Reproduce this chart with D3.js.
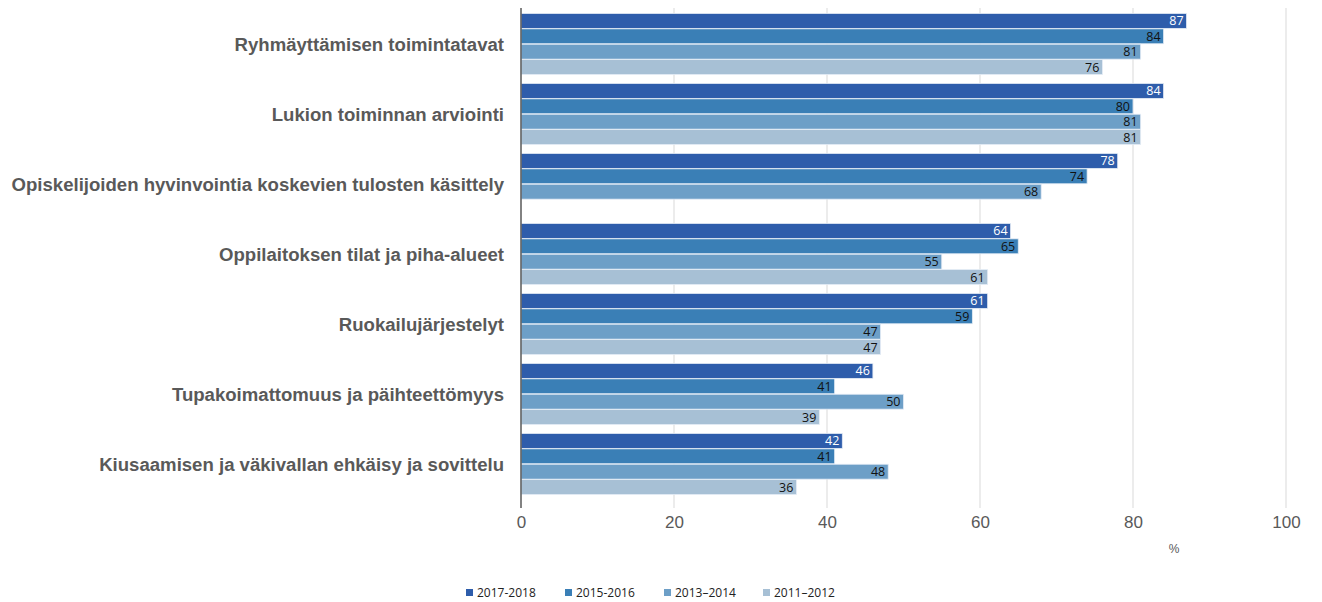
<!DOCTYPE html>
<html>
<head>
<meta charset="utf-8">
<script src="https://cdn.jsdelivr.net/npm/d3@7"></script>
<style>
  body { margin: 0; background: #fff; }
</style>
</head>
<body>
<div id="chart"></div>
<script>
// categories and series
const categories = [
  "Ryhmäyttämisen toimintatavat",
  "Lukion toiminnan arviointi",
  "Opiskelijoiden hyvinvointia koskevien tulosten käsittely",
  "Oppilaitoksen tilat ja piha-alueet",
  "Ruokailujärjestelyt",
  "Tupakoimattomuus ja päihteettömyys",
  "Kiusaamisen ja väkivallan ehkäisy ja sovittelu"
]
const seriesNames = ["2017-2018", "2015-2016", "2013–2014", "2011–2012"]
const s2017 = [87, 84, 78, 64, 61, 46, 42]
const s2015 = [84, 80, 74, 65, 59, 41, 41]
const s2013 = [81, 81, 68, 55, 47, 50, 48]
const s2011 = [76, 81, null, 61, 47, 39, 36]
const xTicks = [0, 20, 40, 60, 80, 100]

const colors = ["#2e5dab", "#3a7fb6", "#6d9fc7", "#a7c0d5"]
const labelColors = ["#ffffff", "#111", "#111", "#111"]
const sansFont = "Arial, 'Liberation Sans', Helvetica, sans-serif"

let width = 1322
let height = 602

const svg = d3.select("#chart").append("svg")
  .attr("width", width)
  .attr("height", height)

const x = d3.scaleLinear().domain([0, 100]).range([521, 1286])
// step 70, group height 62
const y = d3.scaleBand().domain(categories).range([13, 495]).paddingInner(8 / 70).paddingOuter(0)
const allSeries = [s2017, s2015, s2013, s2011]
const ySub = d3.scaleBand().domain(d3.range(4)).range([0, y.bandwidth()]).padding(0.03)

// gridlines
svg.append("g")
  .selectAll("line")
  .data(xTicks.slice(1))
  .join("line")
  .attr("x1", d => x(d)).attr("x2", d => x(d))
  .attr("y1", 8).attr("y2", 508)
  .attr("stroke", "#d9d9d9")
  .attr("stroke-width", 1)

// bars
categories.forEach((cat, i) => {
  const g = svg.append("g").attr("transform", `translate(0,${y(cat)})`)
  allSeries.forEach((s, j) => {
    const v = s[i]
    if (v == null) return
    g.append("rect")
      .attr("x", x(0))
      .attr("y", ySub(j))
      .attr("width", x(v) - x(0))
      .attr("height", ySub.bandwidth())
      .attr("fill", colors[j])
      .attr("stroke", "#e4ecf5")
      .attr("stroke-width", 0.8)
    g.append("text")
      .attr("x", x(v) - 3)
      .attr("y", ySub(j) + ySub.bandwidth() / 2)
      .attr("dy", "0.36em")
      .attr("text-anchor", "end")
      .attr("font-family", "'Open Sans', sans-serif")
      .attr("font-size", 12.5)
      .attr("fill", labelColors[j])
      .text(v)
  })
})

// axis line at 0
svg.append("line")
  .attr("x1", x(0)).attr("x2", x(0))
  .attr("y1", 8).attr("y2", 508)
  .attr("stroke", "#595959")
  .attr("stroke-width", 1.5)

// category labels
const catLabels = svg.append("g")
  .selectAll("text")
  .data(categories)
  .join("text")
  .attr("x", 504)
  .attr("y", d => y(d) + y.bandwidth() / 2)
  .attr("dy", "0.35em")
  .attr("text-anchor", "end")
  .attr("font-family", sansFont)
  .attr("font-weight", "bold")
  .attr("font-size", 16)
  .attr("fill", "#595959")
  .text(d => d)

// fit the longest label to the width it has in the original (~493px)
let maxLen = d3.max(catLabels.nodes(), n => n.getComputedTextLength())
if (maxLen > 0) catLabels.attr("font-size", Math.min(19, 16 * 493 / maxLen))

// x axis tick labels
const xAxis = d3.axisBottom(x).tickValues(xTicks).tickSize(0).tickPadding(6)
const ax = svg.append("g")
  .attr("transform", "translate(0,510)")
  .call(xAxis)
  .attr("font-family", sansFont)
  .attr("font-size", 17)
ax.select(".domain").remove()
ax.selectAll("text")
  .attr("fill", "#595959")

svg.append("text")
  .attr("x", 1174)
  .attr("y", 553)
  .attr("text-anchor", "middle")
  .attr("font-family", sansFont)
  .attr("font-size", 12)
  .attr("fill", "#595959")
  .text("%")

// legend
const legendX = [466, 565, 664, 763]
const legend = svg.append("g")
  .selectAll("g")
  .data(seriesNames)
  .join("g")
  .attr("transform", (d, i) => `translate(${legendX[i]},593)`)
legend.append("rect")
  .attr("x", 0).attr("y", -4)
  .attr("width", 7).attr("height", 7)
  .attr("fill", (d, i) => colors[i])
legend.append("text")
  .attr("x", 11)
  .attr("y", 0)
  .attr("dy", "0.35em")
  .attr("font-family", "'Open Sans', sans-serif")
  .attr("font-size", 12)
  .attr("fill", "#222")
  .text(d => d)
</script>
</body>
</html>
